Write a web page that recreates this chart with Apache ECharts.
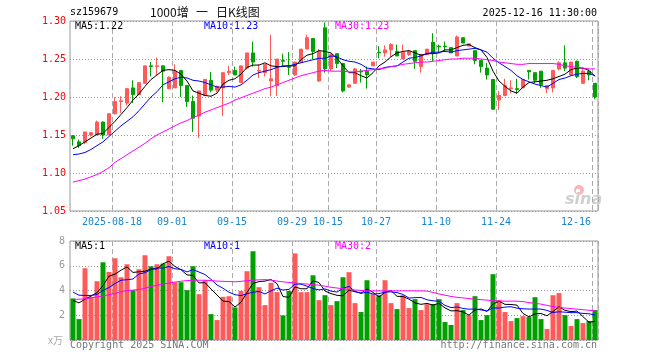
<!DOCTYPE html>
<html><head><meta charset="utf-8">
<script src="https://cdn.jsdelivr.net/npm/echarts@6/dist/echarts.min.js"></script>
<style>html,body{margin:0;padding:0;background:#fff}#c{width:660px;height:360px}</style>
</head><body><div id="c"></div>
<script>
const dates = [
'2025-08-07','2025-08-08','2025-08-11','2025-08-12','2025-08-13','2025-08-14','2025-08-15','2025-08-18','2025-08-19','2025-08-20','2025-08-21','2025-08-22','2025-08-25','2025-08-26','2025-08-27','2025-08-28','2025-08-29',
'2025-09-01','2025-09-02','2025-09-03','2025-09-04','2025-09-05','2025-09-08','2025-09-09','2025-09-10','2025-09-11','2025-09-12','2025-09-15','2025-09-16','2025-09-17','2025-09-18','2025-09-19','2025-09-22','2025-09-23','2025-09-24','2025-09-25','2025-09-26','2025-09-29','2025-09-30',
'2025-10-09','2025-10-10','2025-10-13','2025-10-14','2025-10-15','2025-10-16','2025-10-17','2025-10-20','2025-10-21','2025-10-22','2025-10-23','2025-10-24','2025-10-27','2025-10-28','2025-10-29','2025-10-30','2025-10-31',
'2025-11-03','2025-11-04','2025-11-05','2025-11-06','2025-11-07','2025-11-10','2025-11-11','2025-11-12','2025-11-13','2025-11-14','2025-11-17','2025-11-18','2025-11-19','2025-11-20','2025-11-21','2025-11-24','2025-11-25','2025-11-26','2025-11-27','2025-11-28',
'2025-12-01','2025-12-02','2025-12-03','2025-12-04','2025-12-05','2025-12-08','2025-12-09','2025-12-10','2025-12-11','2025-12-12','2025-12-15','2025-12-16'];

const opens = [1.149,1.141,1.140,1.150,1.150,1.167,1.150,1.178,1.194,1.192,1.212,1.203,1.218,1.241,1.240,1.241,1.211,1.212,1.235,1.215,1.194,1.175,1.202,1.222,1.209,1.212,1.232,1.235,1.219,1.238,1.258,1.234,1.232,1.221,1.215,1.248,1.240,1.229,1.246,1.263,1.277,1.221,1.291,1.237,1.257,1.244,1.213,1.218,1.234,1.234,1.241,1.259,1.258,1.262,1.260,1.250,1.256,1.261,1.240,1.256,1.272,1.267,1.267,1.265,1.254,1.278,1.267,1.261,1.248,1.238,1.223,1.196,1.202,1.211,1.211,1.212,1.235,1.232,1.234,1.211,1.212,1.237,1.245,1.229,1.247,1.218,1.234,1.218];
const highs = [1.150,1.144,1.154,1.154,1.169,1.168,1.178,1.200,1.201,1.212,1.222,1.219,1.241,1.246,1.252,1.241,1.227,1.243,1.235,1.215,1.202,1.208,1.223,1.233,1.215,1.232,1.241,1.240,1.241,1.258,1.273,1.243,1.243,1.282,1.250,1.257,1.259,1.246,1.263,1.282,1.277,1.263,1.298,1.257,1.257,1.245,1.216,1.238,1.237,1.240,1.246,1.267,1.268,1.271,1.269,1.269,1.262,1.261,1.256,1.263,1.284,1.269,1.273,1.265,1.281,1.278,1.270,1.261,1.248,1.245,1.223,1.208,1.224,1.222,1.224,1.223,1.235,1.232,1.234,1.215,1.235,1.247,1.268,1.246,1.248,1.238,1.236,1.218];
const lows = [1.136,1.133,1.138,1.148,1.150,1.145,1.150,1.177,1.179,1.189,1.192,1.203,1.218,1.227,1.229,1.193,1.210,1.212,1.200,1.187,1.154,1.146,1.201,1.206,1.206,1.175,1.229,1.229,1.219,1.236,1.240,1.225,1.227,1.201,1.201,1.241,1.229,1.228,1.245,1.263,1.250,1.220,1.232,1.234,1.238,1.206,1.212,1.218,1.219,1.211,1.241,1.251,1.253,1.253,1.254,1.250,1.254,1.237,1.232,1.256,1.247,1.258,1.260,1.258,1.254,1.271,1.267,1.243,1.232,1.223,1.183,1.183,1.201,1.205,1.204,1.212,1.223,1.218,1.212,1.205,1.206,1.235,1.234,1.228,1.225,1.218,1.222,1.197];
const closes = [1.145,1.136,1.154,1.153,1.167,1.150,1.178,1.194,1.195,1.211,1.203,1.219,1.241,1.240,1.241,1.234,1.226,1.234,1.215,1.194,1.172,1.208,1.223,1.209,1.214,1.232,1.234,1.229,1.241,1.258,1.246,1.235,1.243,1.224,1.250,1.247,1.239,1.246,1.263,1.278,1.260,1.260,1.237,1.256,1.244,1.208,1.216,1.237,1.233,1.229,1.246,1.258,1.262,1.269,1.254,1.259,1.260,1.247,1.256,1.263,1.258,1.266,1.266,1.258,1.279,1.271,1.270,1.248,1.240,1.229,1.184,1.202,1.215,1.212,1.210,1.223,1.233,1.222,1.216,1.215,1.235,1.245,1.238,1.246,1.227,1.234,1.229,1.200];

const ma5 = [1.132,1.136,1.141,1.146,1.151,1.152,1.160,1.168,1.177,1.186,1.196,1.204,1.214,1.223,1.229,1.235,1.236,1.235,1.230,1.221,1.208,1.205,1.202,1.201,1.205,1.217,1.222,1.224,1.230,1.239,1.242,1.242,1.245,1.241,1.240,1.240,1.241,1.241,1.249,1.255,1.257,1.261,1.260,1.258,1.251,1.241,1.232,1.232,1.228,1.225,1.232,1.241,1.246,1.253,1.258,1.260,1.261,1.258,1.255,1.257,1.257,1.258,1.262,1.262,1.265,1.268,1.269,1.265,1.262,1.252,1.234,1.221,1.214,1.208,1.205,1.213,1.219,1.220,1.221,1.222,1.224,1.227,1.230,1.236,1.238,1.238,1.235,1.227];
const ma10 = [1.124,1.125,1.127,1.131,1.136,1.141,1.148,1.155,1.162,1.168,1.174,1.182,1.191,1.200,1.207,1.216,1.220,1.224,1.226,1.225,1.222,1.221,1.219,1.216,1.213,1.213,1.214,1.213,1.216,1.222,1.229,1.232,1.234,1.236,1.239,1.241,1.241,1.243,1.245,1.247,1.249,1.251,1.251,1.254,1.253,1.249,1.247,1.246,1.243,1.238,1.237,1.236,1.239,1.240,1.241,1.246,1.251,1.252,1.254,1.257,1.259,1.259,1.260,1.259,1.261,1.262,1.263,1.264,1.262,1.259,1.251,1.245,1.240,1.235,1.228,1.223,1.220,1.217,1.215,1.213,1.218,1.223,1.225,1.228,1.230,1.231,1.231,1.228];
const ma30 = [1.088,1.090,1.092,1.095,1.098,1.102,1.107,1.114,1.119,1.124,1.129,1.134,1.139,1.145,1.150,1.154,1.158,1.162,1.166,1.169,1.173,1.176,1.180,1.183,1.186,1.189,1.192,1.196,1.199,1.202,1.205,1.208,1.211,1.213,1.216,1.219,1.222,1.225,1.228,1.230,1.232,1.234,1.235,1.234,1.234,1.234,1.233,1.233,1.234,1.235,1.236,1.237,1.238,1.240,1.241,1.243,1.244,1.245,1.246,1.246,1.247,1.248,1.249,1.250,1.250,1.251,1.251,1.251,1.250,1.249,1.248,1.246,1.245,1.244,1.243,1.243,1.244,1.244,1.244,1.244,1.244,1.243,1.241,1.240,1.239,1.238,1.237,1.237];

const volumes = [3.36,1.69,5.80,3.49,4.75,6.28,5.50,6.60,5.07,6.12,4.03,5.72,6.85,5.96,6.12,6.17,6.77,4.67,4.67,4.03,5.96,3.70,4.83,2.09,1.61,3.49,3.54,2.63,3.97,5.56,7.17,4.27,2.82,4.62,3.87,1.99,3.97,7.00,3.87,3.87,5.23,3.22,3.62,2.82,3.14,5.07,5.48,2.98,2.26,4.83,3.70,3.62,4.83,2.98,2.50,3.62,2.58,3.30,2.42,2.90,2.90,3.30,1.45,1.21,2.98,2.42,2.01,3.54,1.61,2.01,5.32,3.22,2.26,1.53,1.77,1.93,1.85,3.46,1.69,0.89,3.62,3.79,2.01,1.13,1.69,1.37,1.53,2.42];
const volMa5 = [3.20,3.00,3.30,3.55,3.82,4.40,5.16,5.32,5.64,5.91,5.46,5.51,5.56,5.74,5.74,6.16,6.37,5.94,5.68,5.26,5.22,4.61,4.64,4.12,3.64,3.14,3.11,2.67,3.05,3.84,4.57,4.72,4.76,4.89,4.55,3.51,3.45,4.29,4.14,4.14,4.79,4.64,3.96,3.75,3.61,3.57,4.03,3.90,3.79,4.12,3.85,3.48,3.85,3.99,3.53,3.51,3.30,3.00,2.88,2.96,2.82,2.96,2.59,2.35,2.37,2.27,2.01,2.43,2.51,2.32,2.90,3.14,2.88,2.87,2.82,2.14,1.87,2.11,2.14,1.96,2.30,2.69,2.40,2.29,2.34,1.89,1.43,1.51];
const volMa10 = [3.87,3.62,3.60,3.60,3.68,4.00,4.24,4.56,4.83,4.87,4.93,5.34,5.44,5.69,5.83,5.81,5.94,5.75,5.71,5.50,5.69,5.49,5.29,4.90,4.45,4.18,3.86,3.66,3.59,3.74,3.86,3.92,3.72,3.97,4.19,4.04,4.09,4.52,4.51,4.35,4.15,4.05,4.13,3.95,3.87,4.18,4.33,3.93,3.77,3.87,3.71,3.75,3.87,3.89,3.83,3.68,3.39,3.42,3.44,3.25,3.17,3.13,2.80,2.62,2.67,2.55,2.49,2.51,2.43,2.34,2.59,2.58,2.66,2.69,2.57,2.52,2.50,2.50,2.50,2.39,2.22,2.28,2.25,2.21,2.21,2.15,2.12,2.01];
const volMa30 = [3.28,3.30,3.33,3.40,3.48,3.56,3.66,3.76,3.90,3.99,4.03,4.08,4.18,4.33,4.42,4.52,4.60,4.68,4.75,4.80,4.83,4.83,4.83,4.80,4.76,4.74,4.72,4.70,4.74,4.79,4.83,4.86,4.88,4.84,4.76,4.70,4.65,4.60,4.56,4.52,4.47,4.43,4.35,4.26,4.20,4.14,4.08,4.04,4.01,3.98,3.97,3.97,3.97,3.97,3.97,3.97,3.97,3.97,3.97,3.95,3.85,3.72,3.62,3.52,3.45,3.40,3.35,3.30,3.26,3.22,3.18,3.15,3.14,3.14,3.14,3.10,3.02,2.97,2.90,2.80,2.70,2.63,2.58,2.54,2.49,2.45,2.40,2.36];

const xTickLabels = ['2025-08-18','09-01','09-15','09-29','10-15','10-27','11-10','11-24','12-16'];
const priceLegend = ['MA5:1.22','MA10:1.23','MA30:1.23'];
const volLegend = ['MA5:1','MA10:1','MA30:2'];

const MONO = '"DejaVu Sans Mono", monospace';
const CJK = '"Noto Sans CJK SC", sans-serif';
const RED = '#ff5a5a', GREEN = '#00a000';
const C5 = '#000000', C10 = '#0000ff', C30 = '#ff00ff';
const tickIdx = xTickLabels.map(l => dates.findIndex(d => d === l || d.slice(5) === l));
const isTick = i => tickIdx.indexOf(i) >= 0;
const lastTick = tickIdx[tickIdx.length - 1];

const chart = echarts.init(document.getElementById('c'));
const splitX = {show: true, interval: (i) => isTick(i), lineStyle: {color: '#aaaaaa', type: [5, 3], width: 1}};
const txt = (text, x, y, fill, font, size, align) => ({type: 'text', x: x, y: y, silent: true,
  style: {text: text, fill: fill, fontFamily: font, fontSize: size, align: align || 'left', verticalAlign: 'middle'}});

const lineS = (name, data, color, xi, yi) => ({name: name, type: 'line', data: data, xAxisIndex: xi, yAxisIndex: yi,
  symbol: 'none', silent: true, lineStyle: {color: color, width: 1}, z: 5});

chart.setOption({
  animation: false,
  grid: [
    {left: 70, top: 21, width: 528, height: 190, show: true, borderColor: '#999', borderWidth: 1, backgroundColor: 'transparent'},
    {left: 70, top: 241, width: 528, height: 99, show: true, borderColor: '#999', borderWidth: 1, backgroundColor: 'transparent'}
  ],
  xAxis: [
    {type: 'category', gridIndex: 0, data: dates, boundaryGap: true,
     axisLine: {show: false}, axisTick: {show: false},
     axisLabel: {interval: (i) => isTick(i), color: '#1a86d0', fontFamily: MONO, fontSize: 10, margin: 6, padding: [0, 6, 0, 0],
       formatter: (v, i) => { const k = tickIdx.indexOf(i); if (k < 0) return ''; return i === lastTick ? '{r|' + xTickLabels[k] + '}' : xTickLabels[k]; },
       rich: {r: {padding: [0, 32, 0, 0], color: '#1a86d0', fontFamily: MONO, fontSize: 10}}},
     splitLine: splitX},
    {type: 'category', gridIndex: 1, data: dates, boundaryGap: true,
     axisLine: {show: false}, axisTick: {show: false}, axisLabel: {show: false}, splitLine: splitX}
  ],
  yAxis: [
    {type: 'value', gridIndex: 0, min: 1.05, max: 1.30, interval: 0.05, scale: true,
     axisLine: {show: false}, axisTick: {show: false},
     axisLabel: {color: '#ff0000', fontFamily: MONO, fontSize: 10, margin: 4, formatter: v => v.toFixed(2)},
     splitLine: {show: true, lineStyle: {color: '#999', type: [1, 2], width: 1}}},
    {type: 'value', gridIndex: 1, min: 0, max: 8, interval: 2,
     axisLine: {show: false}, axisTick: {show: false},
     axisLabel: {color: '#999', fontFamily: MONO, fontSize: 10, margin: 5, formatter: v => v === 0 ? '' : String(v)},
     splitLine: {show: true, lineStyle: {color: '#999', type: [1, 2], width: 1}}}
  ],
  series: [
    {type: 'candlestick', xAxisIndex: 0, yAxisIndex: 0, barWidth: 4, silent: true,
     data: dates.map((d, i) => [opens[i], closes[i], lows[i], highs[i]]),
     itemStyle: {color: RED, color0: GREEN, borderColor: RED, borderColor0: GREEN, borderWidth: 1}},
    lineS('MA5', ma5, C5, 0, 0),
    lineS('MA10', ma10, C10, 0, 0),
    lineS('MA30', ma30, C30, 0, 0),
    {type: 'bar', xAxisIndex: 1, yAxisIndex: 1, barWidth: 5, silent: true,
     data: volumes.map((v, i) => ({value: v, itemStyle: {color: closes[i] >= opens[i] ? RED : GREEN}}))},
    lineS('VMA5', volMa5, C5, 1, 1),
    lineS('VMA10', volMa10, C10, 1, 1),
    lineS('VMA30', volMa30, C30, 1, 1)
  ],
  graphic: [
    txt('sz159679', 70, 12.5, '#000', MONO, 10),
    txt('1000增', 150, 12, '#111', CJK, 12),
    txt('一', 196, 12, '#111', CJK, 12),
    txt('日K线图', 216, 12, '#111', CJK, 12),
    txt('2025-12-16 11:30:00', 597, 13, '#000', MONO, 10, 'right'),
    txt(priceLegend[0], 75, 26, C5, MONO, 10),
    txt(priceLegend[1], 204, 26, C10, MONO, 10),
    txt(priceLegend[2], 335, 26, C30, MONO, 10),
    txt(volLegend[0], 75, 246.5, C5, MONO, 10),
    txt(volLegend[1], 204, 246.5, C10, MONO, 10),
    txt(volLegend[2], 335, 246.5, C30, MONO, 10),
    txt('x万', 48, 340, '#aaa', CJK, 10),
    txt('Copyright 2025 SINA.COM', 70, 345.5, '#777', MONO, 10),
    txt('http://finance.sina.com.cn', 597, 345.5, '#777', MONO, 10, 'right'),
    {type: 'circle', silent: true, shape: {cx: 579, cy: 190, r: 5}, style: {fill: '#f7b7b7'}},
    {type: 'circle', silent: true, shape: {cx: 578, cy: 191, r: 2.2}, style: {fill: '#fff'}},
    {type: 'text', silent: true, x: 565, y: 200, style: {text: 'sina', fill: '#cfcfcf', fontFamily: '"DejaVu Sans", sans-serif', fontSize: 16, fontWeight: 'bold', fontStyle: 'italic', align: 'left', verticalAlign: 'middle'}}
  ]
});
</script>
</body></html>
